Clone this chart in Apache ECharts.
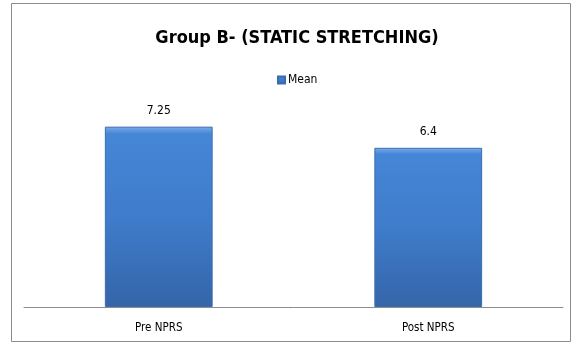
<!DOCTYPE html>
<html>
<head>
<meta charset="utf-8">
<script src="https://cdn.jsdelivr.net/npm/echarts@6/dist/echarts.min.js"></script>
<style>
  html, body { margin: 0; padding: 0; background: #fff; }
  #chart { width: 576px; height: 347px; }
</style>
</head>
<body>
<div id="chart"></div>
<script>
var categories = ['Pre NPRS', 'Post NPRS'];
var meanValues = [7.25, 6.4];
var seriesName = 'Mean';
var titleText = 'Group B- (STATIC STRETCHING)';

var myChart = echarts.init(document.getElementById('chart'));
var narrow = '"DejaVu Sans Condensed", "Liberation Sans Narrow", sans-serif';

var option = {
    animation: false,
    graphic: [{
        type: 'rect',
        shape: { x: 11.5, y: 3.5, width: 559, height: 338 },
        style: { fill: 'none', stroke: '#8c8c8c', lineWidth: 1 }
    }],
    title: {
        text: titleText,
        left: 292,
        textAlign: 'center',
        top: 24,
        textStyle: { fontFamily: narrow, fontSize: 18, fontWeight: 'bold', color: '#000' }
    },
    legend: {
        data: [seriesName],
        top: 69,
        left: 272,
        itemWidth: 7,
        itemHeight: 7,
        itemGap: 4,
        icon: 'rect',
        textStyle: { fontFamily: narrow, fontSize: 12, color: '#000', padding: [0, 0, 0, -2] }
    },
    grid: { left: 24, right: 13, top: 108, bottom: 40 },
    xAxis: {
        type: 'category',
        data: categories,
        axisTick: { show: false },
        axisLine: { lineStyle: { color: '#8c8c8c', width: 1 } },
        axisLabel: { fontFamily: narrow, fontSize: 11.5, color: '#000', margin: 15 }
    },
    yAxis: {
        type: 'value',
        min: 0,
        max: 8,
        show: false,
        splitLine: { show: false }
    },
    series: [{
        name: seriesName,
        type: 'bar',
        data: meanValues,
        barWidth: '40%',
        itemStyle: {
            color: new echarts.graphic.LinearGradient(0, 0, 0, 1, [
                { offset: 0, color: '#79aceb' },
                { offset: 0.04, color: '#4686d6' },
                { offset: 0.5, color: '#3f7ccb' },
                { offset: 1, color: '#3465a8' }
            ]),
            borderColor: '#3a6db0',
            borderWidth: 1
        },
        label: {
            show: true,
            position: 'top',
            distance: 10,
            fontFamily: narrow,
            fontSize: 12,
            color: '#000'
        }
    }]
};

myChart.setOption(option);
</script>
</body>
</html>
